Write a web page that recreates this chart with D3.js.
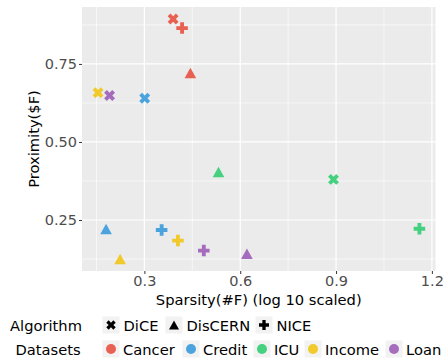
<!DOCTYPE html>
<html>
<head>
<meta charset="utf-8">
<script src="https://cdn.jsdelivr.net/npm/d3@7"></script>
<style>
  body { margin: 0; background: #fff; }
  text { font-family: "DejaVu Sans", sans-serif; }
</style>
</head>
<body>
<div id="vis"></div>
<script>
// data
const datasets = ["Cancer", "Credit", "ICU", "Income", "Loan"];
const algorithms = ["DiCE", "DisCERN", "NICE"];
const colours = ["#e74c3c", "#3498db", "#2ecc71", "#f1c40f", "#9b59b6"];
const xTicks = [0.3, 0.6, 0.9, 1.2];
const yTicks = [0.25, 0.50, 0.75];

// sparsity (log10) per dataset, in algorithm order DiCE, DisCERN, NICE
const sparsity = {
  Cancer: [0.390, 0.444, 0.418],
  Credit: [0.301, 0.180, 0.354],
  ICU:    [0.892, 0.532, 1.161],
  Income: [0.155, 0.224, 0.405],
  Loan:   [0.191, 0.621, 0.486]
};
const proximity = {
  Cancer: [0.894, 0.721, 0.865],
  Credit: [0.640, 0.221, 0.218],
  ICU:    [0.380, 0.404, 0.222],
  Income: [0.658, 0.125, 0.184],
  Loan:   [0.649, 0.142, 0.152]
};

let points = [];
datasets.forEach(d => algorithms.forEach((a, i) => {
  points.push({dataset: d, algorithm: a, x: sparsity[d][i], y: proximity[d][i]});
}));

const width = 447, height = 358;
const margin = {top: 7, right: 11.5, bottom: 87, left: 82};

const svg = d3.select("#vis").append("svg")
  .attr("width", width).attr("height", height);

// ggplot style 5% expansion
function expand(ext){
  let r = ext[1] - ext[0];
  return [ext[0] - 0.05 * r, ext[1] + 0.05 * r];
}

const x = d3.scaleLinear()
  .domain(expand(d3.extent(points, p => p.x)))
  .range([margin.left, width - margin.right]);
const y = d3.scaleLinear()
  .domain(expand(d3.extent(points, p => p.y)))
  .range([height - margin.bottom, margin.top]);

const colour = d3.scaleOrdinal().domain(datasets).range(colours);

// marker shapes
const plusShape = {
  draw(ctx, size){
    let r = Math.sqrt(size / 5) / 2;
    ctx.moveTo(-3*r, -r); ctx.lineTo(-r, -r); ctx.lineTo(-r, -3*r);
    ctx.lineTo(r, -3*r); ctx.lineTo(r, -r); ctx.lineTo(3*r, -r);
    ctx.lineTo(3*r, r); ctx.lineTo(r, r); ctx.lineTo(r, 3*r);
    ctx.lineTo(-r, 3*r); ctx.lineTo(-r, r); ctx.lineTo(-3*r, r);
    ctx.closePath();
  }
};
const triShape = {
  draw(ctx, size){
    let h = Math.sqrt(size) * 0.72;
    ctx.moveTo(0, -h); ctx.lineTo(h * 1.1, h); ctx.lineTo(-h * 1.1, h);
    ctx.closePath();
  }
};
const shapes = {
  DiCE:    {type: plusShape, size: 74, rot: 45},
  DisCERN: {type: triShape, size: 54, rot: 0},
  NICE:    {type: plusShape, size: 74, rot: 0}
};

// panel
svg.append("rect")
  .attr("x", margin.left).attr("y", margin.top)
  .attr("width", width - margin.left - margin.right)
  .attr("height", height - margin.top - margin.bottom)
  .attr("fill", "#ebebeb");

const g = svg.append("g");

// minor grid
const xMinor = xTicks.map(t => t - 0.15).concat([xTicks[xTicks.length-1] + 0.15])
  .filter(t => t > x.domain()[0] && t < x.domain()[1]);
const yMinor = [yTicks[0] - 0.125].concat(yTicks.map(t => t + 0.125))
  .filter(t => t > y.domain()[0] && t < y.domain()[1]);

g.selectAll(".xminor").data(xMinor).enter().append("line")
  .attr("x1", d => x(d)).attr("x2", d => x(d))
  .attr("y1", margin.top).attr("y2", height - margin.bottom)
  .attr("stroke", "#fff").attr("stroke-width", 0.6);
g.selectAll(".yminor").data(yMinor).enter().append("line")
  .attr("y1", d => y(d)).attr("y2", d => y(d))
  .attr("x1", margin.left).attr("x2", width - margin.right)
  .attr("stroke", "#fff").attr("stroke-width", 0.6);

// major grid
g.selectAll(".xmajor").data(xTicks).enter().append("line")
  .attr("x1", d => x(d)).attr("x2", d => x(d))
  .attr("y1", margin.top).attr("y2", height - margin.bottom)
  .attr("stroke", "#fff").attr("stroke-width", 1.2);
g.selectAll(".ymajor").data(yTicks).enter().append("line")
  .attr("y1", d => y(d)).attr("y2", d => y(d))
  .attr("x1", margin.left).attr("x2", width - margin.right)
  .attr("stroke", "#fff").attr("stroke-width", 1.2);

// axes
const xAxis = svg.append("g")
  .attr("transform", `translate(0,${height - margin.bottom})`)
  .call(d3.axisBottom(x).tickValues(xTicks).tickSize(3).tickPadding(2).tickFormat(d3.format(".1f")));
const yAxis = svg.append("g")
  .attr("transform", `translate(${margin.left},0)`)
  .call(d3.axisLeft(y).tickValues(yTicks).tickSize(3).tickPadding(2).tickFormat(d3.format(".2f")));
[xAxis, yAxis].forEach(a => {
  a.select(".domain").remove();
  a.selectAll(".tick line").attr("stroke", "#333").attr("stroke-width", 1);
  a.selectAll(".tick text").attr("fill", "#4d4d4d").style("font-size", "14.5px")
    .style("font-family", "DejaVu Sans");
});

svg.append("text")
  .attr("x", (margin.left + width - margin.right) / 2).attr("y", 305)
  .attr("text-anchor", "middle").style("font-size", "14.7px")
  .text("Sparsity(#F) (log 10 scaled)");
svg.append("text")
  .attr("transform", `translate(39,${(margin.top + height - margin.bottom) / 2}) rotate(-90)`)
  .attr("text-anchor", "middle").style("font-size", "14.7px")
  .text("Proximity($F)");

// points
g.selectAll(".pt").data(points).enter().append("path")
  .attr("class", "pt")
  .attr("d", d => d3.symbol().type(shapes[d.algorithm].type).size(shapes[d.algorithm].size)())
  .attr("transform", d => `translate(${x(d.x)},${y(d.y)}) rotate(${shapes[d.algorithm].rot})`)
  .attr("fill", d => colour(d.dataset))
  .attr("fill-opacity", 0.88);

// legends
const algX = [111, 174, 264];
const dsX = [111, 191, 262, 313, 394];
const row1 = 325, row2 = 349;

svg.append("text").attr("x", 46).attr("y", row1 + 5.5)
  .attr("text-anchor", "middle").style("font-size", "14.7px").text("Algorithm");
svg.append("text").attr("x", 48).attr("y", row2 + 5.5)
  .attr("text-anchor", "middle").style("font-size", "14.7px").text("Datasets");

const lg1 = svg.selectAll(".lg1").data(algorithms).enter().append("g")
  .attr("transform", (d, i) => `translate(${algX[i]},${row1})`);
lg1.append("rect").attr("x", -8.5).attr("y", -8.5).attr("width", 17).attr("height", 17)
  .attr("fill", "#f2f2f2");
lg1.append("path")
  .attr("d", d => d3.symbol().type(shapes[d].type).size(shapes[d].size * 0.75)())
  .attr("transform", d => `rotate(${shapes[d].rot})`)
  .attr("fill", "#000");
lg1.append("text").attr("x", 12.5).attr("y", 5.5).style("font-size", "14.7px").text(d => d);

const lg2 = svg.selectAll(".lg2").data(datasets).enter().append("g")
  .attr("transform", (d, i) => `translate(${dsX[i]},${row2})`);
lg2.append("rect").attr("x", -8.5).attr("y", -8.5).attr("width", 17).attr("height", 17)
  .attr("fill", "#f2f2f2");
lg2.append("circle").attr("r", 5).attr("fill", d => colour(d)).attr("fill-opacity", 0.88);
lg2.append("text").attr("x", 12).attr("y", 5.5).style("font-size", "14.7px").text(d => d);
</script>
</body>
</html>
